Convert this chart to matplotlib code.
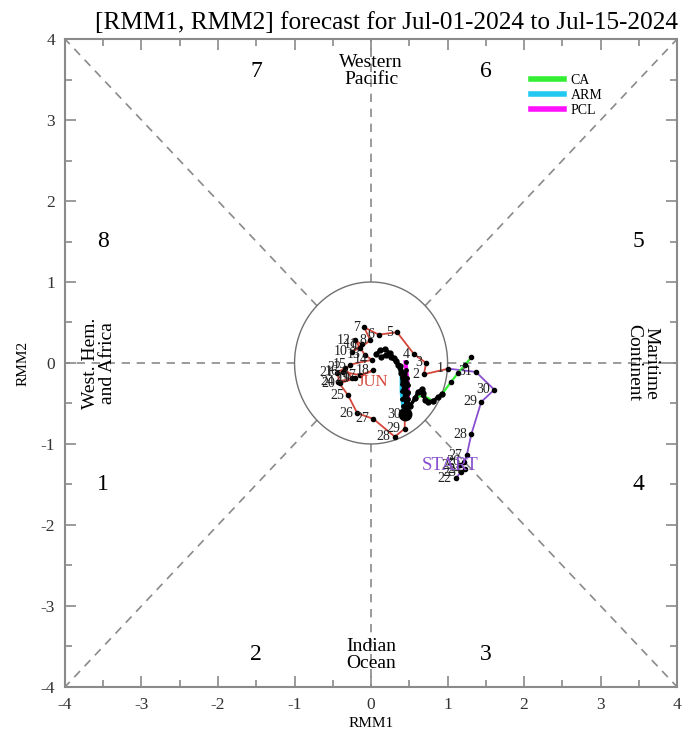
import numpy as np
import matplotlib
matplotlib.use('Agg')
import matplotlib.pyplot as plt

plt.rcParams['font.family'] = ['Liberation Serif', 'DejaVu Serif']
plt.rcParams['axes.unicode_minus'] = False

# observed RMM, May 22 - May 31
may_days = [22, 23, 24, 25, 26, 27, 28, 29, 30, 31]
may_rmm1 = [1.11, 1.17, 1.23, 1.16, 1.22, 1.25, 1.31, 1.44, 1.61, 1.37]
may_rmm2 = [-1.42, -1.35, -1.31, -1.26, -1.22, -1.14, -0.88, -0.48, -0.33, -0.11]

# observed RMM, Jun 1 - Jun 30
jun_days = list(range(1, 31))
jun_rmm1 = [1.01, 0.69, 0.72, 0.56, 0.34, 0.10, -0.09, -0.01, -0.14, -0.25,
            -0.12, -0.21, -0.08, 0.01, -0.27, -0.37, -0.14, 0.03, -0.21, -0.41,
            -0.44, -0.34, -0.25, -0.43, -0.30, -0.18, 0.03, 0.31, 0.44, 0.44]
jun_rmm2 = [-0.07, -0.14, 0.00, 0.11, 0.38, 0.35, 0.44, 0.28, 0.19, 0.14,
            0.23, 0.28, 0.10, 0.04, -0.02, -0.11, -0.15, -0.09, -0.19, -0.25,
            -0.12, -0.06, -0.19, -0.23, -0.40, -0.62, -0.69, -0.91, -0.81, -0.63]

# forecasts
ca_rmm1 = [0.44, 0.51, 0.58, 0.68, 0.81, 0.93, 1.04, 1.14, 1.23, 1.31]
ca_rmm2 = [-0.63, -0.53, -0.43, -0.40, -0.47, -0.38, -0.24, -0.12, -0.02, 0.07]
arm_rmm1 = [0.44, 0.42, 0.41, 0.40, 0.40, 0.40, 0.39]
arm_rmm2 = [-0.63, -0.53, -0.44, -0.35, -0.26, -0.18, -0.11]
pcl_rmm1 = [0.44, 0.47, 0.48, 0.48, 0.48, 0.47, 0.46, 0.45]
pcl_rmm2 = [-0.63, -0.54, -0.45, -0.36, -0.27, -0.18, -0.09, 0.01]
ens1_rmm1 = [0.46, 0.46, 0.44, 0.43, 0.42, 0.39, 0.35, 0.30, 0.25, 0.18, 0.12, 0.07]
ens1_rmm2 = [-0.62, -0.52, -0.42, -0.32, -0.22, -0.12, -0.02, 0.06, 0.12, 0.17, 0.16, 0.11]
ens2_rmm1 = [0.46, 0.47, 0.47, 0.46, 0.43, 0.38, 0.33, 0.26, 0.20, 0.13]
ens2_rmm2 = [-0.62, -0.49, -0.37, -0.25, -0.14, -0.04, 0.02, 0.07, 0.10, 0.07]
ens3_rmm1 = [0.44, 0.51, 0.58, 0.61, 0.67, 0.68, 0.71, 0.75, 0.81, 0.88, 0.93]
ens3_rmm2 = [-0.63, -0.53, -0.43, -0.36, -0.32, -0.37, -0.46, -0.48, -0.47, -0.42, -0.38]

fig = plt.figure(figsize=(6.91, 7.36), dpi=100)
ax = fig.add_axes([0.094, 0.0666, 0.886, 0.8804])
ax.set_xlim(-4, 4)
ax.set_ylim(-4, 4)

grey = '#8a8a8a'
# phase dividers
r = np.sqrt(0.5)
for sx, sy in [(1, 1), (1, -1), (-1, 1), (-1, -1)]:
    ax.plot([sx * r, sx * 4], [sy * r, sy * 4], ls=(0, (5, 4)), color=grey, lw=1.2)
for sx, sy in [(1, 0), (-1, 0), (0, 1), (0, -1)]:
    ax.plot([sx * 1, sx * 4], [sy * 1, sy * 4], ls=(0, (5, 4)), color=grey, lw=1.2)
t = np.linspace(0, 2 * np.pi, 300)
ax.plot(np.cos(t), np.sin(t), color='#707070', lw=1.0)

# observed tracks
ax.plot(may_rmm1 + [jun_rmm1[0]], may_rmm2 + [jun_rmm2[0]], color='#8a4fcf', lw=1.3, zorder=3)
ax.plot(jun_rmm1, jun_rmm2, color='#d6453a', lw=1.3, zorder=3)
ax.plot(may_rmm1, may_rmm2, 'o', color='black', ms=3, zorder=5)
ax.plot(jun_rmm1, jun_rmm2, 'o', color='black', ms=3, zorder=5)
for d, x, y in zip(may_days, may_rmm1, may_rmm2):
    ax.annotate(str(d), (x, y), xytext=(-3, 0), textcoords='offset points',
                ha='right', va='center', fontsize=10, color='#222222', zorder=6)
for d, x, y in zip(jun_days, jun_rmm1, jun_rmm2):
    ax.annotate(str(d), (x, y), xytext=(-3, 0), textcoords='offset points',
                ha='right', va='center', fontsize=10, color='#222222', zorder=6)
ax.text(1.03, -1.27, 'START', color='#8a4fcf', fontsize=13.5, ha='center', va='center', zorder=7)
ax.text(0.03, -0.24, 'JUN', color='#d6453a', fontsize=12, ha='center', va='center', zorder=7)

# forecasts
ax.plot(ca_rmm1, ca_rmm2, color='#33ee33', lw=1.6, zorder=4, label='CA')
ax.plot(ca_rmm1, ca_rmm2, 'o', color='black', ms=3, zorder=5)
ax.plot(arm_rmm1, arm_rmm2, color='#22c8f0', lw=3, zorder=4, label='ARM')
ax.plot(pcl_rmm1, pcl_rmm2, color='#ff10ff', lw=3, zorder=4, label='PCL')
for ex, ey in [(ens1_rmm1, ens1_rmm2), (ens2_rmm1, ens2_rmm2), (ens3_rmm1, ens3_rmm2)]:
    ax.plot(ex, ey, color='black', lw=2.5, zorder=5)
    ax.plot(ex, ey, 'o', color='black', ms=3.5, zorder=5)
ax.plot(arm_rmm1, arm_rmm2, 'o', color='black', ms=2.5, zorder=6)
ax.plot(pcl_rmm1, pcl_rmm2, 'o', color='black', ms=2.5, zorder=6)
ax.plot([jun_rmm1[-1]], [jun_rmm2[-1]], 'o', color='black', ms=9, zorder=7)

leg = ax.legend(loc='upper left', bbox_to_anchor=(0.74, 0.965), frameon=False,
                fontsize=10, handlelength=2.4, labelspacing=0.12, handletextpad=0.5)
for ln in leg.get_lines():
    ln.set_linewidth(4)

# phase numbers and regions
for txt, x, y in [('7', -1.5, 3.6), ('6', 1.5, 3.6), ('8', -3.5, 1.5), ('5', 3.5, 1.5),
                  ('1', -3.5, -1.5), ('4', 3.5, -1.5), ('2', -1.5, -3.6), ('3', 1.5, -3.6)]:
    ax.text(x, y, txt, fontsize=17, ha='center', va='center')
ax.text(0, 3.6, 'Western\nPacific', fontsize=14, ha='center', va='center', linespacing=1.0)
ax.text(0, -3.6, 'Indian\nOcean', fontsize=14, ha='center', va='center', linespacing=1.0)
ax.text(-3.55, 0, 'West. Hem.\nand Africa', fontsize=14, ha='center', va='center',
        rotation=90, linespacing=1.0)
ax.text(3.55, 0, 'Maritime\nContinent', fontsize=14, ha='center', va='center',
        rotation=270, linespacing=1.0)

ax.set_xticks(np.arange(-4, 5, 1))
ax.set_yticks(np.arange(-4, 5, 1))
ax.set_xticks(np.arange(-3.5, 4, 1), minor=True)
ax.set_yticks(np.arange(-3.5, 4, 1), minor=True)
ax.tick_params(which='both', direction='in', top=True, right=True, color=grey,
               labelsize=12.5, labelcolor='#333333', width=1.2, pad=7)
ax.tick_params(which='major', length=8)
ax.tick_params(which='minor', length=5)
for s in ax.spines.values():
    s.set_color(grey)
    s.set_linewidth(1.5)

ax.set_xlabel('RMM1', fontsize=11, labelpad=3)
ax.set_ylabel('RMM2', fontsize=11, labelpad=8)
ax.set_title('[RMM1, RMM2] forecast for Jul-01-2024 to Jul-15-2024', fontsize=18.2,
             pad=7, x=0.525)

fig.savefig('out.png', dpi=100)
